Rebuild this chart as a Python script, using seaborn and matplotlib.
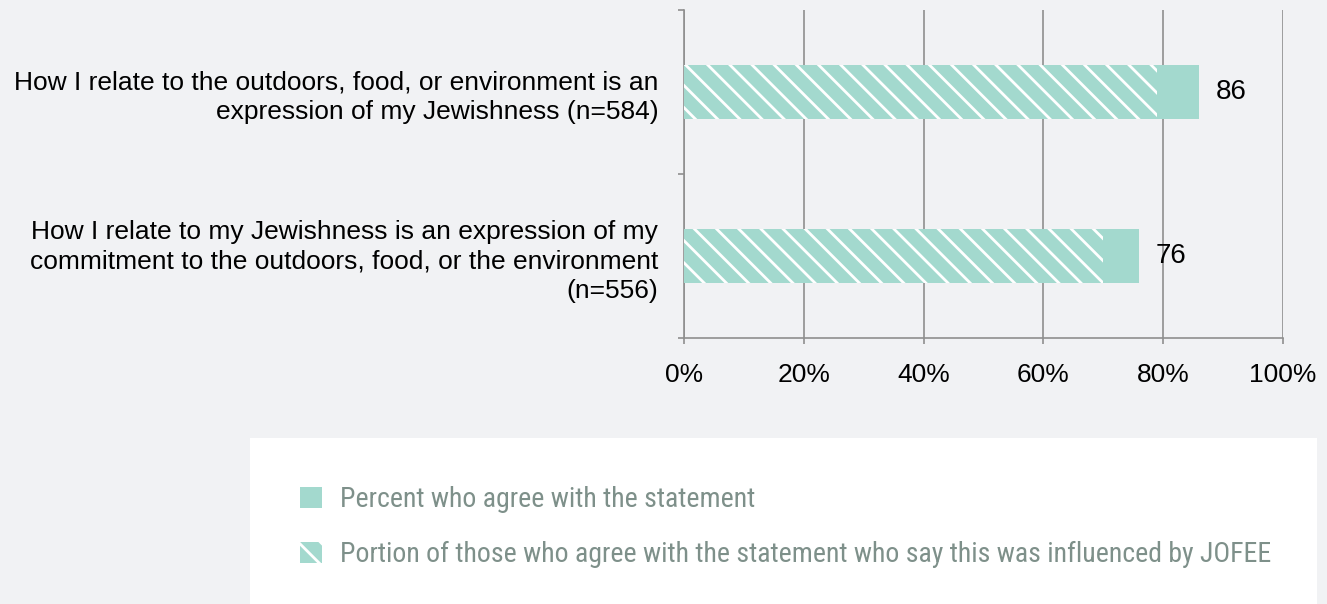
import pandas as pd
import seaborn as sns
import matplotlib.pyplot as plt
from matplotlib.patches import Patch, Rectangle
from matplotlib import font_manager

statements = [
    "How I relate to the outdoors, food, or environment is an\nexpression of my Jewishness (n=584)",
    "How I relate to my Jewishness is an expression of my\ncommitment to the outdoors, food, or the environment\n(n=556)",
]
agree = [86, 76]
jofee = [79, 70]
value_labels = ["86", "76"]
xticks = [0, 20, 40, 60, 80, 100]
legend_labels = [
    "Percent who agree with the statement",
    "Portion of those who agree with the statement who say this was influenced by JOFEE",
]

BG = "#f1f2f4"
BAR = "#a3d9ce"
GRID = "#8f8f8f"
LEG_TXT = "#7e908a"

sns.set_theme(style="white")
plt.rcParams["font.family"] = ["Liberation Sans", "DejaVu Sans"]
plt.rcParams["hatch.linewidth"] = 1.5
plt.rcParams["hatch.color"] = "white"

narrow = "Liberation Sans"
for cand in ["Liberation Sans Narrow", "Arial Narrow", "Roboto Condensed", "DejaVu Sans Condensed"]:
    try:
        font_manager.findfont(cand, fallback_to_default=False)
        narrow = cand
        break
    except Exception:
        pass

df = pd.DataFrame({"statement": statements, "agree": agree, "jofee": jofee})

DPI = 133
fig = plt.figure(figsize=(1327 / DPI, 604 / DPI), dpi=DPI, facecolor=BG)
ax = fig.add_axes([684 / 1327, 1 - 338 / 604, (1283 - 684) / 1327, (338 - 10) / 604])
ax.set_facecolor(BG)

sns.barplot(data=df, y="statement", x="agree", orient="h", color=BAR,
            saturation=1, width=0.33, ax=ax)
n_solid = len(ax.patches)
sns.barplot(data=df, y="statement", x="jofee", orient="h", color=BAR,
            saturation=1, width=0.33, ax=ax)
for i, p in enumerate(ax.patches):
    p.set_linewidth(0)
    if i >= n_solid:
        p.set_hatch("\\\\")
        p.set_edgecolor("white")
        p.set_zorder(3)

for i, (v, lab) in enumerate(zip(agree, value_labels)):
    ax.annotate(lab, xy=(v, i), xytext=(9, 0), textcoords="offset points",
                ha="left", va="center", fontsize=15, color="black")

ax.set_xlim(0, 100)
ax.set_ylim(1.5, -0.5)
ax.set_xticks(xticks)
ax.set_xticklabels([f"{t}%" for t in xticks], fontsize=14.3, color="black")
ax.set_yticks([0, 1])
ax.set_yticklabels(statements, fontsize=14.3, color="black", linespacing=1.3)
ax.set_yticks([-0.5, 0.5, 1.5], minor=True)
ax.tick_params(axis="y", which="major", length=0, pad=14)
ax.tick_params(axis="y", which="minor", length=3.3, width=0.9, color=GRID, left=True)
ax.tick_params(axis="x", which="major", length=3.3, width=0.9, color=GRID, bottom=True, pad=10.5)
ax.set_xlabel("")
ax.set_ylabel("")

ax.grid(axis="x", color=GRID, linewidth=0.9)
ax.grid(axis="y", visible=False)
ax.set_axisbelow(True)
for s in ["top", "right"]:
    ax.spines[s].set_visible(False)
for s in ["left", "bottom"]:
    ax.spines[s].set_color(GRID)
    ax.spines[s].set_linewidth(0.9)

# white legend panel
fig.patches.append(Rectangle((250 / 1327, 0), (1317 - 250) / 1327, (604 - 438) / 604,
                             transform=fig.transFigure, facecolor="white",
                             edgecolor="none", zorder=0))

handles = [
    Patch(facecolor=BAR, edgecolor="none", linewidth=0),
    Patch(facecolor=BAR, edgecolor="white", linewidth=0, hatch="\\\\"),
]
fs = 15.1
fpx = fs * DPI / 72
fig.legend(handles, legend_labels, loc="upper left",
           bbox_to_anchor=(300 / 1327, 1 - 486 / 604), frameon=False,
           prop={"family": narrow, "size": fs}, labelcolor=LEG_TXT,
           handlelength=22 / fpx, handleheight=22 / fpx, handletextpad=18 / fpx,
           labelspacing=1.0, borderpad=0, borderaxespad=0)

fig.savefig("out.png", dpi=DPI, facecolor=BG)
